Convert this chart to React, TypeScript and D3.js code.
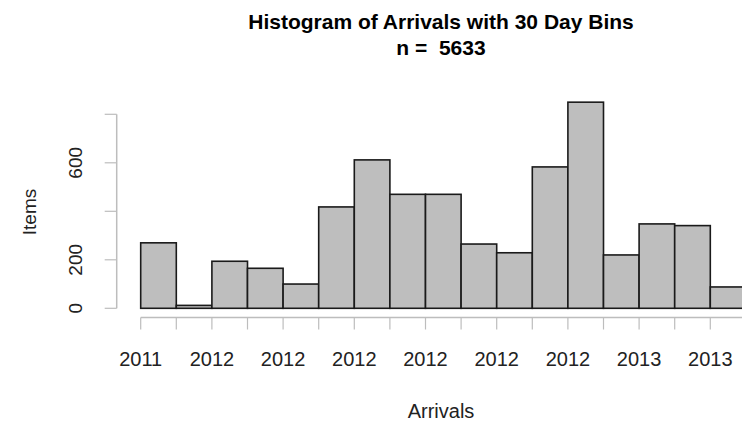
import React from "react";
import * as d3 from "d3";

// Counts per 30-day bin
const binCounts = [270, 12, 194, 165, 100, 418, 612, 470, 470, 265, 229, 583, 850, 220, 348, 341, 88];
// Labels shown under every other break
const tickLabels = ["2011", "2012", "2012", "2012", "2012", "2012", "2012", "2013", "2013"];
const yTicks = [0, 200, 400, 600, 800];
const yTickLabels = ["0", "200", "", "600", ""];
const titleLines = ["Histogram of Arrivals with 30 Day Bins", "n =  5633"];

const W = 742;
const H = 426;
const FONT = "'Liberation Sans', Arial, Helvetica, sans-serif";

export default function App() {
  const nBins = binCounts.length;
  const x = d3.scaleLinear().domain([0, nBins]).range([140.7, 745.9]);
  const y = d3.scaleLinear().domain([0, 800]).range([308.3, 114.3]);
  const breaks = d3.range(nBins + 1);
  const axisY = 317.5;
  const axisX = 116.7;
  const axisCol = "#bdbdbd";
  const fs = 20;

  return (
    <svg
      width={W}
      height={H}
      style={{ position: "fixed", left: 0, top: 0, background: "#fff" }}
      fontFamily={FONT}
    >
      <rect x={0} y={0} width={W} height={H} fill="#fff" />
      {/* Title */}
      <text x={441} y={29} textAnchor="middle" fontSize={21} fontWeight="bold" fill="#000">
        {titleLines[0]}
      </text>
      <text x={441} y={55} textAnchor="middle" fontSize={21} fontWeight="bold" fill="#000" style={{ whiteSpace: "pre" }}>
        {titleLines[1]}
      </text>

      {/* Bars */}
      {binCounts.map((c, i) => (
        <rect
          key={i}
          x={x(i)}
          y={y(c)}
          width={x(i + 1) - x(i)}
          height={y(0) - y(c)}
          fill="#bebebe"
          stroke="#1a1a1a"
          strokeWidth={1.6}
        />
      ))}

      {/* X axis */}
      <line x1={x(0)} x2={x(nBins)} y1={axisY} y2={axisY} stroke={axisCol} strokeWidth={1.5} />
      {breaks.map((b) => (
        <line key={b} x1={x(b)} x2={x(b)} y1={axisY} y2={axisY + 12} stroke={axisCol} strokeWidth={1.2} />
      ))}
      {tickLabels.map((lab, i) => (
        <text key={i} x={x(i * 2)} y={366} textAnchor="middle" fontSize={fs} fill="#222">
          {lab}
        </text>
      ))}

      {/* Y axis */}
      <line x1={axisX} x2={axisX} y1={y(0)} y2={y(800)} stroke={axisCol} strokeWidth={1.5} />
      {yTicks.map((t) => (
        <line key={t} x1={axisX - 12} x2={axisX} y1={y(t)} y2={y(t)} stroke={axisCol} strokeWidth={1.2} />
      ))}
      {yTicks.map((t, i) => (
        <text
          key={t}
          transform={`translate(82,${y(t)}) rotate(-90)`}
          textAnchor="middle"
          fontSize={19}
          fill="#222"
        >
          {yTickLabels[i]}
        </text>
      ))}

      {/* Axis titles */}
      <text x={441} y={418} textAnchor="middle" fontSize={fs} fill="#222">
        Arrivals
      </text>
      <text transform={`translate(36,212) rotate(-90)`} textAnchor="middle" fontSize={19} fill="#222">
        Items
      </text>
    </svg>
  );
}
